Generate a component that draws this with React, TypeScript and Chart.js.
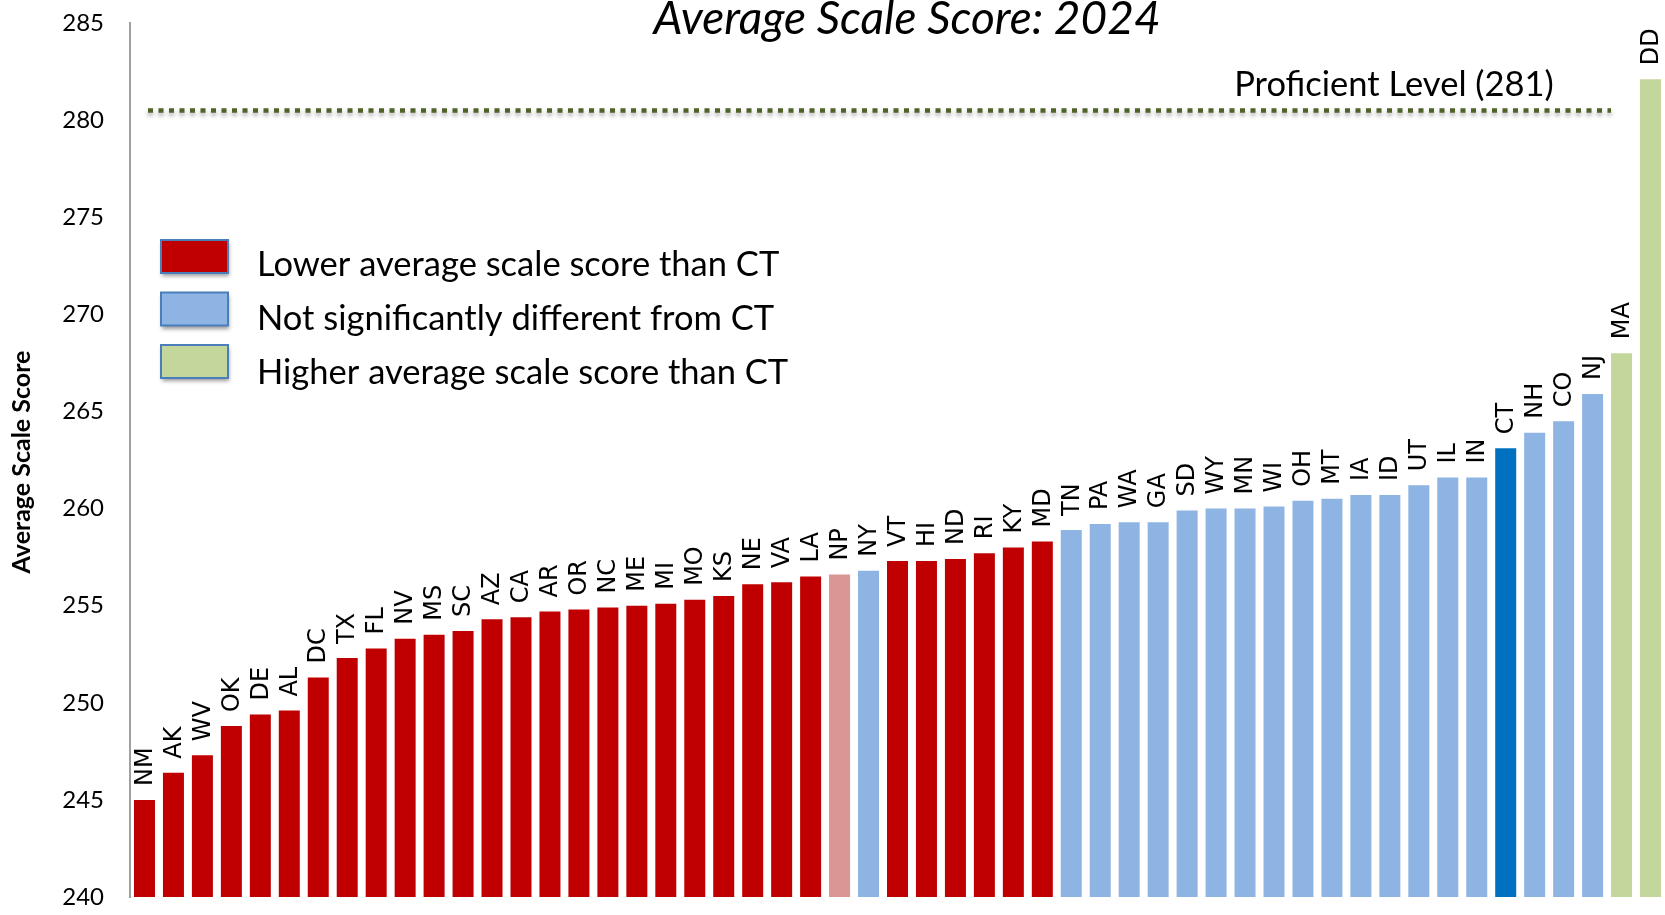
import React, { useEffect, useRef } from "react";
import { Chart, registerables } from "chart.js";

Chart.register(...registerables);

// ---- data ----
const states = [
  "NM", "AK", "WV", "OK", "DE", "AL", "DC", "TX", "FL", "NV", "MS", "SC", "AZ", "CA",
  "AR", "OR", "NC", "ME", "MI", "MO", "KS", "NE", "VA", "LA", "NP", "NY", "VT", "HI",
  "ND", "RI", "KY", "MD", "TN", "PA", "WA", "GA", "SD", "WY", "MN", "WI", "OH", "MT",
  "IA", "ID", "UT", "IL", "IN", "CT", "NH", "CO", "NJ", "MA", "DD",
];

const scores = [
  245.0, 246.4, 247.3, 248.8, 249.4, 249.6, 251.3, 252.3, 252.8, 253.3, 253.5, 253.7, 254.3, 254.4,
  254.7, 254.8, 254.9, 255.0, 255.1, 255.3, 255.5, 256.1, 256.2, 256.5, 256.6, 256.8, 257.3, 257.3,
  257.4, 257.7, 258.0, 258.3, 258.9, 259.2, 259.3, 259.3, 259.9, 260.0, 260.0, 260.1, 260.4, 260.5,
  260.7, 260.7, 261.2, 261.6, 261.6, 263.1, 263.9, 264.5, 265.9, 268.0, 282.1,
];

// L = lower than CT, S = not significantly different, H = higher, C = CT itself, P = national public
const groups = [
  "L", "L", "L", "L", "L", "L", "L", "L", "L", "L", "L", "L", "L", "L",
  "L", "L", "L", "L", "L", "L", "L", "L", "L", "L", "P", "S", "L", "L",
  "L", "L", "L", "L", "S", "S", "S", "S", "S", "S", "S", "S", "S", "S",
  "S", "S", "S", "S", "S", "C", "S", "S", "S", "H", "H",
];

const yTicks = [240, 245, 250, 255, 260, 265, 270, 275, 280, 285];

const legendLabels = [
  "Lower average scale score than CT",
  "Not significantly different from CT",
  "Higher average scale score than CT",
];
const legendGroups = ["L", "S", "H"];

const proficientLevel = 280.5;
const proficientLabel = "Proficient Level (281)";
const chartTitle = "Average Scale Score: 2024";
const yAxisTitle = "Average Scale Score";

// ---- styles ----
const groupColors: Record<string, string> = {
  L: "#C00000",
  S: "#8EB4E3",
  H: "#C3D69B",
  C: "#0070C0",
  P: "#D99694",
};

const overlay = {
  id: "overlay",
  afterDatasetsDraw(chart: any) {
    const { ctx } = chart;
    const y = chart.scales.y;

    // proficient line
    const py = y.getPixelForValue(proficientLevel);
    ctx.save();
    ctx.strokeStyle = "#4F6228";
    ctx.lineWidth = 4.5;
    ctx.setLineDash([5, 5.5]);
    ctx.shadowColor = "rgba(0,0,0,0.35)";
    ctx.shadowBlur = 4;
    ctx.shadowOffsetY = 3;
    ctx.beginPath();
    ctx.moveTo(148, py);
    ctx.lineTo(1611, py);
    ctx.stroke();
    ctx.restore();

    ctx.save();
    ctx.fillStyle = "#000";
    ctx.font = "34.5px Lato";
    ctx.textAlign = "center";
    ctx.textBaseline = "alphabetic";
    ctx.fillText(proficientLabel, 1394, 96);
    ctx.restore();

    // bar labels
    const meta = chart.getDatasetMeta(0);
    ctx.save();
    ctx.font = "24px 'DejaVu Sans'";
    ctx.fillStyle = "#000";
    meta.data.forEach((bar: any, i: number) => {
      ctx.save();
      ctx.translate(bar.x + 1, bar.y - 14);
      ctx.rotate(-Math.PI / 2);
      ctx.textAlign = "left";
      ctx.textBaseline = "middle";
      ctx.fillText(states[i], 0, 0);
      ctx.restore();
    });
    ctx.restore();

    // legend
    ctx.save();
    legendLabels.forEach((label, i) => {
      const top = 240 + i * 52.5;
      ctx.save();
      ctx.shadowColor = "rgba(0,0,0,0.4)";
      ctx.shadowBlur = 4;
      ctx.shadowOffsetX = 1;
      ctx.shadowOffsetY = 3;
      ctx.fillStyle = groupColors[legendGroups[i]];
      ctx.fillRect(161, top, 67, 33);
      ctx.restore();
      ctx.strokeStyle = "#4A7EBB";
      ctx.lineWidth = 2;
      ctx.strokeRect(161, top, 67, 33);
      ctx.fillStyle = "#000";
      ctx.font = "34.5px Lato";
      ctx.textAlign = "left";
      ctx.textBaseline = "alphabetic";
      ctx.fillText(label, 257, 276 + i * 54);
    });
    ctx.restore();
  },
  afterDraw(chart: any) {
    const { ctx } = chart;
    ctx.save();
    ctx.fillStyle = "#000";
    ctx.font = "italic 46px Lato";
    ctx.textAlign = "center";
    ctx.textBaseline = "alphabetic";
    ctx.fillText(chartTitle, 907, 34);

    ctx.translate(22, 462);
    ctx.rotate(-Math.PI / 2);
    ctx.font = "bold 25px Lato";
    ctx.textBaseline = "middle";
    ctx.fillText(yAxisTitle, 0, 0);
    ctx.restore();
  },
};

export default function App() {
  const canvasRef = useRef<HTMLCanvasElement>(null);

  useEffect(() => {
    const canvas = canvasRef.current;
    if (!canvas) return;
    const chart = new Chart(canvas, {
      type: "bar",
      data: {
        labels: states,
        datasets: [
          {
            data: scores,
            backgroundColor: groups.map((g) => groupColors[g]),
            borderWidth: 0,
            categoryPercentage: 1,
            barPercentage: 0.725,
          },
        ],
      },
      options: {
        responsive: false,
        animation: false,
        events: [],
        layout: { padding: { top: 23, bottom: 18, left: 0, right: 0 } },
        plugins: {
          legend: { display: false },
          title: { display: false },
          tooltip: { enabled: false },
        },
        scales: {
          x: {
            display: false,
            offset: true,
          },
          y: {
            min: 240,
            max: 285,
            afterFit(scale: any) {
              scale.width = 130;
              scale.paddingTop = 0;
              scale.paddingBottom = 0;
            },
            afterBuildTicks(scale: any) {
              scale.ticks = yTicks.map((v) => ({ value: v }));
            },
            grid: { display: false, drawTicks: false },
            border: { display: true, color: "#A0A0A0", width: 2 },
            ticks: {
              padding: 26,
              color: "#000",
              font: { family: "Lato", size: 24 },
            },
          },
        },
      },
      plugins: [overlay],
    });
    return () => chart.destroy();
  }, []);

  return (
    <div style={{ position: "fixed", left: 0, top: 0, width: 1665, height: 915, background: "#fff" }}>
      <canvas ref={canvasRef} width={1665} height={915} style={{ display: "block" }} />
    </div>
  );
}
